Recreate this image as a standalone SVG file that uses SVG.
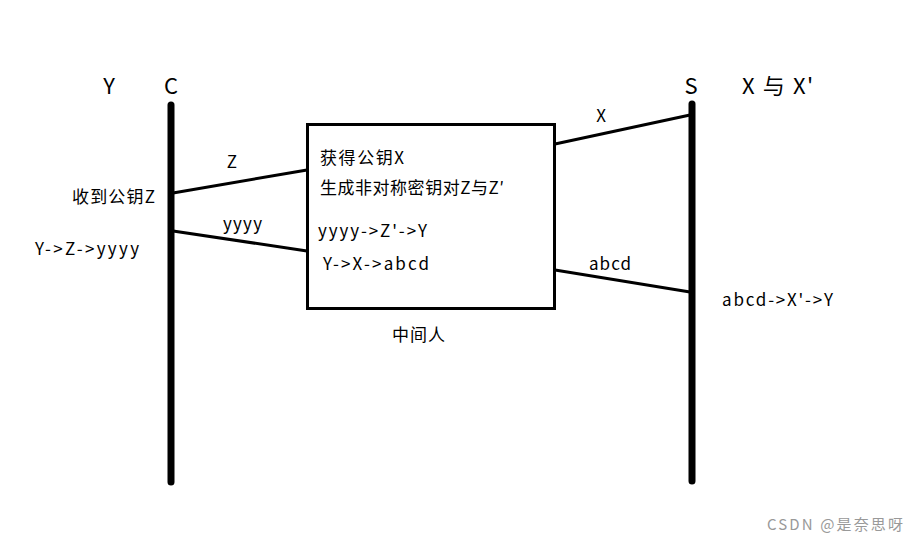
<svg xmlns="http://www.w3.org/2000/svg" width="918" height="543" viewBox="0 0 918 543">
<style>
text{font-family:"Noto Sans CJK SC","Liberation Sans",sans-serif;fill:#000}
.t{font-size:17px}
.h{font-size:22px}
.life{stroke:#000;stroke-width:7;stroke-linecap:round;fill:none}
.msg{stroke:#000;stroke-width:3;fill:none}
</style>
<rect width="918" height="543" fill="#fff"/>
<g id="C">
<line class="life" x1="171" y1="105" x2="171" y2="482"/>
<text class="h" x="171" y="94" text-anchor="middle">C</text>
<text class="h" x="109" y="94" text-anchor="middle">Y</text>
<text class="t" x="72" y="203" textLength="83" lengthAdjust="spacing">收到公钥Z</text>
<text class="t" x="35" y="255" textLength="104" lengthAdjust="spacing">Y-&gt;Z-&gt;yyyy</text>
</g>
<g id="S">
<line class="life" x1="692" y1="104" x2="692" y2="481"/>
<text class="h" x="691" y="94" text-anchor="middle">S</text>
<text class="h" x="742" y="94" textLength="71" lengthAdjust="spacing">X 与 X'</text>
<text class="t" x="722" y="306" textLength="111" lengthAdjust="spacing">abcd-&gt;X'-&gt;Y</text>
</g>
<g id="M">
<rect x="307.5" y="124.5" width="247" height="184" fill="none" stroke="#000" stroke-width="3"/>
<text class="t" x="320" y="164" textLength="84" lengthAdjust="spacing">获得公钥X</text>
<text class="t" x="320" y="194" textLength="184" lengthAdjust="spacing">生成非对称密钥对Z与Z′</text>
<text class="t" x="318" y="237" textLength="109" lengthAdjust="spacing">yyyy-&gt;Z'-&gt;Y</text>
<text class="t" x="323" y="270" textLength="106" lengthAdjust="spacing">Y-&gt;X-&gt;abcd</text>
<text class="t" x="392" y="341" textLength="53" lengthAdjust="spacing">中间人</text>
</g>
<g id="connectors">
<line class="msg" x1="173" y1="193" x2="307" y2="170"/>
<line class="msg" x1="173" y1="231" x2="307" y2="251"/>
<line class="msg" x1="555" y1="144" x2="690" y2="115"/>
<line class="msg" x1="555" y1="270" x2="690" y2="292"/>
<text class="t" x="232" y="168" text-anchor="middle">Z</text>
<text class="t" x="223" y="230" textLength="39" lengthAdjust="spacing">yyyy</text>
<text class="t" x="601" y="122" text-anchor="middle">X</text>
<text class="t" x="589" y="270" textLength="42" lengthAdjust="spacing">abcd</text>
</g>
<text x="767" y="530" textLength="136" lengthAdjust="spacing" style="font-size:15px;fill:#999">CSDN @是奈思呀</text>
</svg>
